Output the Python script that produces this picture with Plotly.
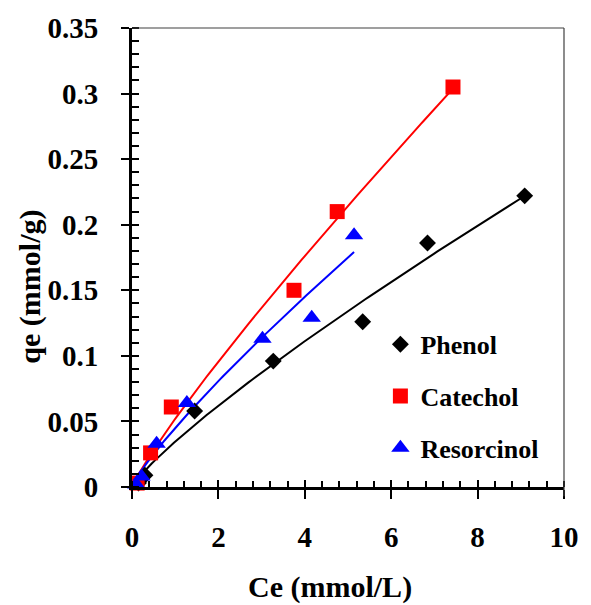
import numpy as np
import plotly.graph_objects as go

# ---- data ----
phenol_ce = [0.15, 0.30, 1.45, 3.27, 5.34, 6.84, 9.09]
phenol_qe = [0.003, 0.009, 0.058, 0.096, 0.126, 0.186, 0.222]

catechol_ce = [0.12, 0.43, 0.91, 3.75, 4.75, 7.43]
catechol_qe = [0.003, 0.026, 0.061, 0.150, 0.210, 0.305]

resorcinol_ce = [0.10, 0.22, 0.57, 1.27, 3.02, 4.16, 5.14]
resorcinol_qe = [0.002, 0.008, 0.033, 0.064, 0.113, 0.129, 0.192]

# power-law (Freundlich) trendline coefficients qe = K * Ce^a
phenol_fit = (0.0346, 0.842)
catechol_fit = (0.052, 0.88)
resorcinol_fit = (0.045, 0.844)

x_ticks = [0, 2, 4, 6, 8, 10]
y_ticks = [0, 0.05, 0.1, 0.15, 0.2, 0.25, 0.3, 0.35]
y_tick_text = ["0", "0.05", "0.1", "0.15", "0.2", "0.25", "0.3", "0.35"]

FONT = "Liberation Serif, Times New Roman, serif"

series = [
    ("Phenol", phenol_ce, phenol_qe, phenol_fit, "black", "diamond", 13),
    ("Catechol", catechol_ce, catechol_qe, catechol_fit, "#FF0000", "square", 15),
    ("Resorcinol", resorcinol_ce, resorcinol_qe, resorcinol_fit, "#0000FF", "triangle-up", 16),
]

fig = go.Figure()

# trendlines first (markers drawn on top)
for name, xs, ys, (k, a), color, sym, sz in series:
    xl = np.linspace(min(xs), max(xs), 120)
    fig.add_trace(go.Scatter(x=xl, y=k * xl ** a, mode="lines",
                             line=dict(color=color, width=2),
                             showlegend=False, hoverinfo="skip"))

for i, (name, xs, ys, fit, color, sym, sz) in enumerate(series):
    fig.add_trace(go.Scatter(x=xs, y=ys, mode="markers", name=name,
                             legendgroup=f"g{i}",
                             marker=dict(symbol=sym, size=sz, color=color,
                                         line=dict(width=0)),
                             cliponaxis=False))

# invisible trace for the overlay axes (crossing ticks)
fig.add_trace(go.Scatter(x=[0], y=[0], xaxis="x2", yaxis="y2", mode="markers",
                         marker=dict(opacity=0), showlegend=False, hoverinfo="skip"))

tick_font = dict(family=FONT, size=29, color="black", weight="bold")
title_font = dict(family=FONT, size=30, color="black", weight="bold")

fig.update_layout(
    width=591, height=605,
    margin=dict(l=132, r=19, t=24, b=118),
    paper_bgcolor="white", plot_bgcolor="white",
    showlegend=True,
    legend=dict(x=0.575, y=0.362, xanchor="left", yanchor="top",
                font=dict(family=FONT, size=26, color="black", weight="bold"),
                bgcolor="rgba(0,0,0,0)", tracegroupgap=15,
                itemsizing="trace"),
    xaxis=dict(range=[0, 10], tickvals=x_ticks, ticktext=[str(v) for v in x_ticks],
               showgrid=False, zeroline=False,
               showline=True, linecolor="black", linewidth=3,
               ticks="outside", ticklen=9, tickwidth=2, tickcolor="black",
               tickfont=tick_font, ticklabelstandoff=13,
               minor=dict(dtick=0.4, ticks="inside", ticklen=6, tickwidth=2,
                          tickcolor="black", showgrid=False)),
    yaxis=dict(range=[0, 0.35], tickvals=y_ticks, ticktext=y_tick_text,
               showgrid=False, zeroline=False,
               showline=True, linecolor="black", linewidth=3,
               ticks="outside", ticklen=8, tickwidth=2, tickcolor="black",
               tickfont=tick_font, ticklabelstandoff=17,
               minor=dict(dtick=0.01, ticks="inside", ticklen=7, tickwidth=2,
                          tickcolor="black", showgrid=False)),
    xaxis2=dict(range=[0, 10], overlaying="x", side="bottom", anchor="y2",
                tickvals=x_ticks, ticks="inside", ticklen=7, tickwidth=2,
                tickcolor="black", showticklabels=False, showgrid=False,
                zeroline=False, showline=False),
    yaxis2=dict(range=[0, 0.35], overlaying="y", side="left", anchor="x2",
                tickvals=y_ticks, ticks="inside", ticklen=7, tickwidth=2,
                tickcolor="black", showticklabels=False, showgrid=False,
                zeroline=False, showline=False),
    shapes=[
        dict(type="line", xref="paper", yref="paper", x0=0, x1=1, y0=1, y1=1,
             line=dict(color="#404040", width=1.2), layer="above"),
        dict(type="line", xref="paper", yref="paper", x0=1, x1=1, y0=-0.02, y1=1,
             line=dict(color="#404040", width=1.2), layer="above"),
    ],
    annotations=[
        dict(text="Ce (mmol/L)", xref="paper", yref="paper",
             x=(334 - 132) / 440, y=-(588 - 487) / 463, xanchor="center", yanchor="middle",
             showarrow=False, font=title_font),
        dict(text="qe (mmol/g)", xref="paper", yref="paper",
             x=-(132 - 28) / 440, y=(487 - 285) / 463, xanchor="center", yanchor="middle",
             textangle=-90, showarrow=False, font=title_font),
    ],
)

fig.write_html("out.html")
